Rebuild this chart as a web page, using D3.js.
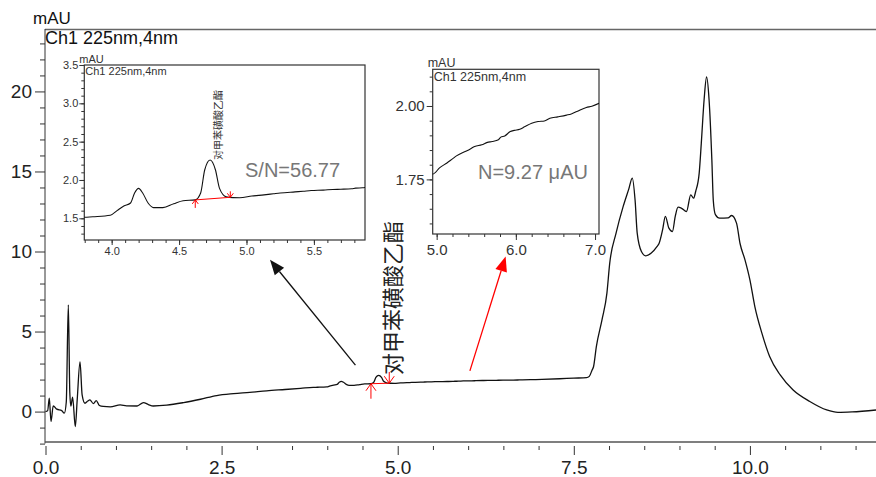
<!DOCTYPE html>
<html>
<head>
<meta charset="utf-8">
<script src="https://cdn.jsdelivr.net/npm/d3@7"></script>
<style>
  body { margin: 0; background: #fff; }
  svg { display: block; font-family: "Liberation Sans", Arial, sans-serif; }
</style>
</head>
<body>
<script>
// chromatogram trace, retention time (min) / absorbance (mAU)
const times = [
  0, 0.03, 0.054, 0.078, 0.11, 0.16, 0.23, 0.267, 0.295, 0.324, 0.345, 0.36, 0.385, 0.423,
  0.45, 0.49, 0.52, 0.56, 0.6, 0.63, 0.68, 0.72, 0.765, 0.82, 0.92, 1.06, 1.15, 1.3, 1.39,
  1.46, 1.53, 1.72, 1.96, 2.2, 2.43, 2.67, 2.9, 3.14, 3.4, 3.62, 3.8, 3.86, 3.99, 4.04,
  4.09, 4.14, 4.17, 4.2, 4.23, 4.27, 4.31, 4.38, 4.46, 4.53, 4.62, 4.66, 4.69, 4.73, 4.77,
  4.8, 4.85, 4.9, 4.95, 5.04, 5.13, 5.2, 5.25, 5.36, 5.42, 5.48, 5.57, 5.64, 5.7, 5.78,
  5.81, 5.86, 5.93, 5.98, 6.05, 6.11, 6.2, 6.28, 6.36, 6.43, 6.53, 6.64, 6.7, 6.77, 6.89,
  6.96, 7.05, 7.3, 7.5, 7.68, 7.72, 7.76, 7.78, 7.82, 7.9, 7.97, 8.01, 8.1, 8.2, 8.28,
  8.33, 8.37, 8.4, 8.46, 8.52, 8.6, 8.68, 8.71, 8.76, 8.8, 8.85, 8.9, 8.94, 8.98, 9.03,
  9.1, 9.16, 9.2, 9.23, 9.28, 9.31, 9.35, 9.385, 9.42, 9.46, 9.48, 9.51, 9.57, 9.69, 9.74,
  9.81, 9.86, 9.93, 10.0, 10.07, 10.17, 10.28, 10.43, 10.61, 10.85, 11.09, 11.25, 11.45, 11.79
];
const signal = [
  0, 0.05, 0.84, -0.62, 0.36, 0.15, 0.06, -0.1, 0.6, 6.67, 1.2, 0.35, 0.9, -0.94,
  0.73, 3.1, 1.04, 0.52, 0.66, 0.73, 0.5, 0.69, 0.38, 0.32, 0.3, 0.42, 0.36, 0.35, 0.56,
  0.44, 0.35, 0.4, 0.56, 0.77, 1.0, 1.12, 1.2, 1.3, 1.38, 1.45, 1.513, 1.52, 1.54, 1.6,
  1.66, 1.7, 1.83, 1.89, 1.83, 1.7, 1.64, 1.64, 1.69, 1.73, 1.74, 1.83, 2.13, 2.26, 2.13,
  1.89, 1.78, 1.77, 1.768, 1.79, 1.806, 1.82, 1.83, 1.845, 1.853, 1.862, 1.868, 1.876, 1.879, 1.885,
  1.894, 1.898, 1.913, 1.917, 1.921, 1.929, 1.941, 1.947, 1.949, 1.958, 1.963, 1.969, 1.973, 1.981, 1.995,
  1.999, 2.009, 2.05, 2.09, 2.12, 2.2, 2.6, 2.8, 4.06, 5.73, 7.4, 9.27, 11.15, 12.8, 13.9,
  14.59, 13.2, 11.15, 10.0, 9.73, 9.9, 10.3, 10.5, 11.35, 12.19, 11.46, 11.25, 12.19, 12.77, 12.7,
  12.5, 13.54, 13.33, 13.75, 14.9, 16.77, 19.5, 20.9, 19.5, 15.7, 13.2, 12.3, 12.08, 12.1, 12.25,
  11.77, 10.5, 9.48, 8.23, 6.56, 4.9, 3.44, 2.29, 1.36, 0.63, 0.1, -0.05, -0.02, 0.1
];

const mainXTicks = [0, 2.5, 5, 7.5, 10];
const mainYTicks = [0, 5, 10, 15, 20];
const inset1XTicks = [4.0, 4.5, 5.0, 5.5];
const inset1YTicks = [1.5, 2.0, 2.5, 3.0, 3.5];
const inset2XTicks = [5, 6, 7];
const inset2YTicks = [1.75, 2.0];

const peakName = "对甲苯磺酸乙酯";
const peakBounds = [4.62, 4.88]; // integration start / end
const snLabel = "S/N=56.77";
const noiseLabel = "N=9.27 μAU";
const channel = "Ch1 225nm,4nm";

// callout arrows in main-chart units: [t1, v1, t2, v2]
const blackArrow = [4.40, 2.9, 3.187, 9.48];
const redArrow = [6.025, 2.54, 6.532, 9.69];

const data = times.map((t, i) => ({ t, v: signal[i] }));

const width = 876, height = 477;
const svg = d3.select("body").append("svg")
  .attr("width", width).attr("height", height);

const plot = { left: 45, right: 876, top: 29, bottom: 442 };
const x = d3.scaleLinear().domain([0, 11.79]).range([45.5, 876]);
const y = d3.scaleLinear().domain([-1.9, 23.9]).range([442, 29]);

function styleAxis(g, size, color) {
  g.select(".domain").remove();
  g.selectAll(".tick line").attr("stroke", "#333");
  g.selectAll(".tick text")
    .attr("fill", color)
    .attr("font-size", size + "px");
}

// ---- main axes
svg.append("line")
  .attr("x1", plot.left).attr("x2", plot.right)
  .attr("y1", plot.top + 0.5).attr("y2", plot.top + 0.5)
  .attr("stroke", "#666").attr("stroke-width", 1.5);
svg.append("line")
  .attr("x1", plot.left).attr("x2", plot.left)
  .attr("y1", plot.top).attr("y2", plot.bottom + 1.5)
  .attr("stroke", "#333");
svg.append("line")
  .attr("x1", plot.left).attr("x2", plot.right)
  .attr("y1", plot.bottom).attr("y2", plot.bottom)
  .attr("stroke", "#555").attr("stroke-width", 1.3);

const xMinor = d3.range(0.5, 11.8, 0.5).filter((d) => !mainXTicks.includes(d));
svg.append("g").attr("transform", `translate(0,${plot.bottom + 4})`)
  .call(d3.axisBottom(x).tickValues(xMinor).tickSize(4).tickFormat(""))
  .call((g) => styleAxis(g, 19, "#222"));
svg.append("g").attr("transform", `translate(0,${plot.bottom + 4})`)
  .call(d3.axisBottom(x).tickValues(mainXTicks).tickSize(9).tickPadding(6)
    .tickFormat(d3.format(".1f")))
  .call((g) => styleAxis(g, 19, "#222"));

const yMinor = d3.range(-2, 24, 1).filter((d) => !mainYTicks.includes(d));
svg.append("g").attr("transform", `translate(${plot.left},0)`)
  .call(d3.axisLeft(y).tickValues(yMinor).tickSize(5).tickFormat(""))
  .call((g) => styleAxis(g, 19, "#222"));
svg.append("g").attr("transform", `translate(${plot.left},0)`)
  .call(d3.axisLeft(y).tickValues(mainYTicks).tickSize(10).tickPadding(3))
  .call((g) => styleAxis(g, 19, "#222"));

svg.append("text").attr("x", 33).attr("y", 24)
  .attr("font-size", "17px").attr("fill", "#111").text("mAU");
svg.append("text").attr("x", 45).attr("y", 44)
  .attr("font-size", "18px").attr("fill", "#111").text(channel);

// ---- main trace
svg.append("clipPath").attr("id", "clip-main")
  .append("rect")
  .attr("x", plot.left).attr("y", plot.top)
  .attr("width", plot.right - plot.left).attr("height", plot.bottom - plot.top);

const line = d3.line()
  .x((d) => x(d.t))
  .y((d) => y(d.v))
  .curve(d3.curveMonotoneX);

svg.append("path")
  .datum(data)
  .attr("clip-path", "url(#clip-main)")
  .attr("fill", "none")
  .attr("stroke", "#111")
  .attr("stroke-width", 1.3)
  .attr("d", line);

// integration marks (red)
function valueAt(t) {
  const i = d3.bisector((d) => d.t).left(data, t);
  const a = data[Math.max(0, i - 1)], b = data[Math.min(data.length - 1, i)];
  if (a.t === b.t) return a.v;
  return a.v + (b.v - a.v) * (t - a.t) / (b.t - a.t);
}

function marks(g, sx, sy, len, head, half, sw) {
  const [t0, t1] = peakBounds;
  const p0 = [sx(t0), sy(valueAt(t0))];
  const p1 = [sx(t1), sy(valueAt(t1))];
  g.append("line")
    .attr("x1", p0[0]).attr("y1", p0[1]).attr("x2", p1[0]).attr("y2", p1[1])
    .attr("stroke", "#f00").attr("stroke-width", sw);
  // start: upward arrow from below
  g.append("path")
    .attr("d", `M${p0[0]},${p0[1] + len}V${p0[1]}M${p0[0] - half},${p0[1] + head}L${p0[0]},${p0[1]}L${p0[0] + half},${p0[1] + head}`)
    .attr("fill", "none").attr("stroke", "#f00").attr("stroke-width", sw);
  // end: downward arrow from above
  g.append("path")
    .attr("d", `M${p1[0]},${p1[1] - len * 0.75}V${p1[1]}M${p1[0] - half},${p1[1] - head}L${p1[0]},${p1[1]}L${p1[0] + half},${p1[1] - head}`)
    .attr("fill", "none").attr("stroke", "#f00").attr("stroke-width", sw);
}

marks(svg.append("g"), x, y, 15, 7, 5, 1);

svg.append("text")
  .attr("transform", `translate(401,375) rotate(-90)`)
  .attr("font-family", "'Noto Sans CJK SC', sans-serif")
  .attr("font-size", "22px")
  .attr("fill", "#222")
  .text(peakName);

// ---- callout arrows
function arrow(a, color) {
  const x1 = x(a[0]), y1 = y(a[1]), x2 = x(a[2]), y2 = y(a[3]);
  const ang = Math.atan2(y2 - y1, x2 - x1);
  const hl = 15, hw = 6;
  const bx = x2 - hl * Math.cos(ang), by = y2 - hl * Math.sin(ang);
  svg.append("line")
    .attr("x1", x1).attr("y1", y1).attr("x2", bx).attr("y2", by)
    .attr("stroke", color).attr("stroke-width", 1.3);
  const nx = -Math.sin(ang) * hw, ny = Math.cos(ang) * hw;
  svg.append("path")
    .attr("d", `M${x2},${y2}L${bx + nx},${by + ny}L${bx - nx},${by - ny}Z`)
    .attr("fill", color);
}
arrow(blackArrow, "#111");
arrow(redArrow, "#f00");

// ---- zoomed insets
function inset(o) {
  const g = svg.append("g");
  const sx = d3.scaleLinear().domain(o.xDomain).range([o.left, o.right]);
  const sy = d3.scaleLinear().domain(o.yDomain).range([o.bottom, o.top]);

  g.append("rect")
    .attr("x", o.left).attr("y", o.top)
    .attr("width", o.right - o.left).attr("height", o.bottom - o.top)
    .attr("fill", "#fff").attr("stroke", "#333").attr("stroke-width", 1.2);

  g.append("clipPath").attr("id", o.id)
    .append("rect")
    .attr("x", o.left).attr("y", o.top)
    .attr("width", o.right - o.left).attr("height", o.bottom - o.top);

  const seg = data.filter((d) => d.t >= o.xDomain[0] - 0.2 && d.t <= o.xDomain[1] + 0.2);
  g.append("path")
    .datum(seg)
    .attr("clip-path", `url(#${o.id})`)
    .attr("fill", "none")
    .attr("stroke", "#111")
    .attr("stroke-width", 1.1)
    .attr("d", d3.line().x((d) => sx(d.t)).y((d) => sy(d.v)).curve(d3.curveMonotoneX));

  g.append("g").attr("transform", `translate(0,${o.bottom})`)
    .call(d3.axisBottom(sx).tickValues(o.xMinor).tickSize(o.minor).tickFormat(""))
    .call((a) => styleAxis(a, o.font, "#333"));
  g.append("g").attr("transform", `translate(0,${o.bottom})`)
    .call(d3.axisBottom(sx).tickValues(o.xTicks).tickSize(o.major).tickPadding(o.xPad)
      .tickFormat(d3.format(".1f")))
    .call((a) => styleAxis(a, o.font, "#333"));
  g.append("g").attr("transform", `translate(${o.left},0)`)
    .call(d3.axisLeft(sy).tickValues(o.yMinor).tickSize(o.minor).tickFormat(""))
    .call((a) => styleAxis(a, o.font, "#333"));
  g.append("g").attr("transform", `translate(${o.left},0)`)
    .call(d3.axisLeft(sy).tickValues(o.yTicks).tickSize(o.major).tickPadding(o.yPad)
      .tickFormat(d3.format(o.yFormat)))
    .call((a) => styleAxis(a, o.font, "#333"));

  g.append("text").attr("x", o.left - 5).attr("y", o.top - 2)
    .attr("font-size", o.titleSize + "px").attr("fill", "#333").text("mAU");
  g.append("text").attr("x", o.left + 1).attr("y", o.top + o.titleSize - 1)
    .attr("font-size", o.titleSize + "px").attr("fill", "#333").text(channel);

  return { g, sx, sy };
}

const in1 = inset({
  id: "clip-in1", left: 84.3, right: 365, top: 65, bottom: 240,
  xDomain: [3.797, 5.879], yDomain: [1.217, 3.5],
  xTicks: inset1XTicks, yTicks: inset1YTicks,
  xMinor: d3.range(3.8, 5.88, 0.1), yMinor: d3.range(1.3, 3.5, 0.1),
  major: 5, minor: 3, xPad: 2, yPad: 1, font: 11, yFormat: ".1f", titleSize: 11
});
marks(in1.g, in1.sx, in1.sy, 8, 4, 3, 1);
in1.g.append("text")
  .attr("transform", `translate(222,160) rotate(-90)`)
  .attr("font-family", "'Noto Sans CJK SC', sans-serif")
  .attr("font-size", "10px").attr("fill", "#333")
  .text(peakName);
in1.g.append("text").attr("x", 245).attr("y", 177)
  .attr("font-size", "20px").attr("font-weight", 300)
  .attr("fill", "#777").text(snLabel);

const in2 = inset({
  id: "clip-in2", left: 432.7, right: 599, top: 69.3, bottom: 234,
  xDomain: [4.95, 7.05], yDomain: [1.564, 2.125],
  xTicks: inset2XTicks, yTicks: inset2YTicks,
  xMinor: d3.range(5, 7.01, 0.2), yMinor: d3.range(1.6, 2.11, 0.05),
  major: 6, minor: 3, xPad: 4, yPad: 2, font: 15, yFormat: ".2f", titleSize: 12.5
});
in2.g.append("text").attr("x", 478).attr("y", 179)
  .attr("font-size", "20px").attr("font-weight", 300)
  .attr("fill", "#777").text(noiseLabel);
</script>
</body>
</html>
